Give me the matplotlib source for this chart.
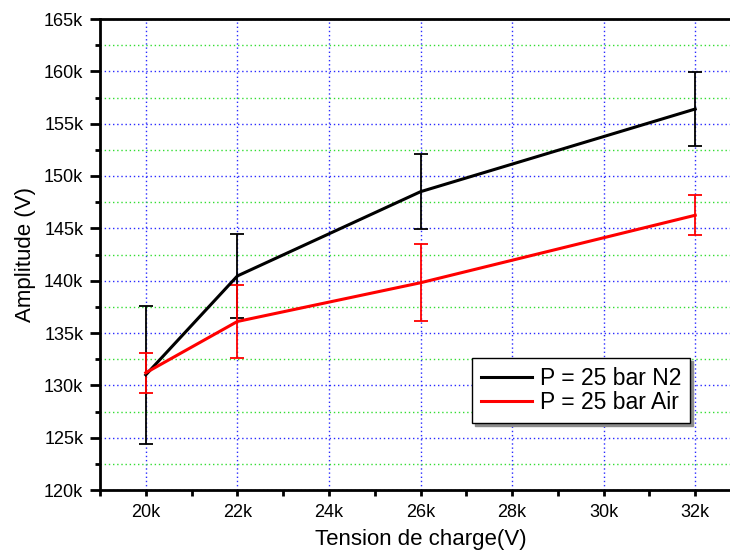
import matplotlib
matplotlib.use("Agg")
import matplotlib.pyplot as plt
from matplotlib.ticker import MultipleLocator, FuncFormatter

plt.rcParams['font.family'] = ['Liberation Sans', 'DejaVu Sans']

# Charging voltage (V)
tension = [20000, 22000, 26000, 32000]

# Amplitude at 25 bar, nitrogen
amp_n2 = [131000, 140450, 148500, 156400]
err_n2 = [6600, 4050, 3600, 3500]

# Amplitude at 25 bar, air
amp_air = [131200, 136100, 139800, 146250]
err_air = [1900, 3500, 3700, 1900]

labels = ["P = 25 bar N2", "P = 25 bar Air"]

fig = plt.figure(figsize=(7.30, 5.52), dpi=100)
ax = fig.add_axes([100 / 730, 62 / 552, 641 / 730, 471 / 552])

ax.errorbar(tension, amp_n2, yerr=err_n2, color='black', lw=2.2,
            elinewidth=1.3, capsize=5, capthick=1.3, label=labels[0], zorder=3)
ax.errorbar(tension, amp_air, yerr=err_air, color='#ff0000', lw=2.2,
            elinewidth=1.3, capsize=5, capthick=1.3, label=labels[1], zorder=3)

ax.set_xlim(19000, 33000)
ax.set_ylim(120000, 165000)
ax.xaxis.set_major_locator(MultipleLocator(2000))
ax.xaxis.set_minor_locator(MultipleLocator(1000))
ax.yaxis.set_major_locator(MultipleLocator(5000))
ax.yaxis.set_minor_locator(MultipleLocator(2500))
kfmt = FuncFormatter(lambda v, p: f"{int(round(v / 1000))}k")
ax.xaxis.set_major_formatter(kfmt)
ax.yaxis.set_major_formatter(kfmt)

ax.grid(which='major', color='#2a2aff', linestyle=(0, (1, 2)), linewidth=1.0, zorder=0)
ax.grid(which='minor', axis='y', color='#33dd33', linestyle=(0, (1, 2)), linewidth=1.0, zorder=0)
ax.set_axisbelow(True)

for side in ['left', 'bottom', 'top', 'right']:
    ax.spines[side].set_linewidth(2)

ax.tick_params(axis='x', which='major', direction='out', length=4, width=2,
               labelsize=13, pad=6)
ax.tick_params(axis='x', which='minor', direction='out', length=4, width=2)
ax.tick_params(axis='y', which='major', direction='out', length=7, width=2,
               labelsize=13, pad=5)
ax.tick_params(axis='y', which='minor', direction='out', length=3.6, width=2)

ax.set_xlabel("Tension de charge(V)", fontsize=16, labelpad=6)
ax.set_ylabel("Amplitude (V)", fontsize=16, labelpad=6)

handles, lbls = ax.get_legend_handles_labels()
handles = [h[0] for h in handles]
leg = fig.legend(handles, lbls, loc='upper left', bbox_to_anchor=(472 / 730, (552 - 358) / 552),
                 fontsize=16.5, frameon=True, fancybox=False, edgecolor='black',
                 borderaxespad=0, handlelength=2.2, handletextpad=0.35,
                 borderpad=0.4, labelspacing=0.05,
                 shadow={'color': '0.55', 'alpha': 1.0})
leg.get_frame().set_linewidth(1.0)

fig.savefig("out.png", dpi=100)
